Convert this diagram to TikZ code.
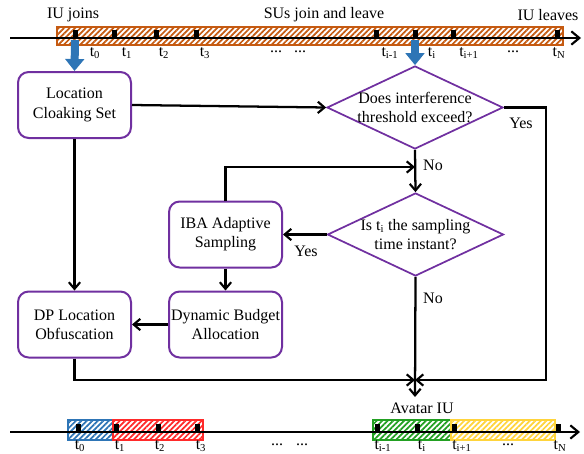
\documentclass[tikz,border=0pt]{standalone}
\usepackage{fontspec}
\setmainfont{Liberation Serif}
\usetikzlibrary{arrows.meta,shapes.geometric,patterns.meta}
\definecolor{purp}{HTML}{7030A0}
\definecolor{orng}{HTML}{C55A11}
\definecolor{blu}{HTML}{2E75B6}
\definecolor{rd}{HTML}{FF2A2A}
\definecolor{grn}{HTML}{22A022}
\definecolor{ylw}{HTML}{FFD43B}
\newcommand{\mydots}{\raisebox{2pt}{...}}
\begin{document}
\begin{tikzpicture}[x=0.75pt,y=-0.75pt,
  font=\fontsize{12}{14.5}\selectfont,
  box/.style={draw=purp, line width=1.5pt, rounded corners=8pt, minimum width=84.75pt,
    minimum height=49.5pt, align=center, fill=white, inner sep=1pt},
  dia/.style={diamond, draw=purp, line width=1.3pt, minimum width=132pt,
    minimum height=62.25pt, inner sep=0pt},
  conn/.style={line width=1.7pt, -{Straight Barb[length=5pt,width=8.5pt,line width=1.6pt]}},
  tline/.style={line width=1.7pt, -{Straight Barb[length=6pt,width=10pt,line width=1.6pt]}},
  hatch/.style={draw=#1, line width=0.9pt,
    pattern={Lines[angle=45,distance=2.9pt,line width=1.3pt]}, pattern color=#1},
  bigarrow/.style={blu, line width=6pt, -{Triangle[length=9pt,width=14pt]}},
  lbl/.style={inner sep=0pt},
]
\useasboundingbox (0,0) rectangle (584,453);

% ---------- top timeline ----------
\draw[hatch=orng] (57,27) rectangle (563,45);
\coordinate (ta) at (10,38);
\coordinate (tb) at (581,38);
\draw[tline] (ta) -- (tb);
\foreach \x in {75,114,156,196,376,415,453,557}
  \fill (\x-2.5,30) rectangle (\x+2.5,38);

\node[lbl] (iuj) at (73,15) {IU joins};
\node[lbl] (sus) at (324,15) {SUs join and leave};
\node[lbl] (iul) at (548,15) {IU leaves};

\node[lbl] (u0) at (95,53) {t\textsubscript{0}};
\node[lbl] (u1) at (127,53) {t\textsubscript{1}};
\node[lbl] (u2) at (164,53) {t\textsubscript{2}};
\node[lbl] (u3) at (205,53) {t\textsubscript{3}};
\node[lbl] (ud1) at (276,53) {\mydots};
\node[lbl] (ud2) at (300,53) {\mydots};
\node[lbl] (uim) at (390,53) {t\textsubscript{i-1}};
\node[lbl] (ui) at (432,53) {t\textsubscript{i}};
\node[lbl] (uip) at (469,53) {t\textsubscript{i+1}};
\node[lbl] (ud3) at (513,53) {\mydots};
\node[lbl] (uN) at (559,53) {t\textsubscript{N}};

% ---------- flowchart ----------
\node[box] (lcs) at (74.5,105) {Location\\Cloaking Set};
\node[dia] (d1) at (415,107.5) {};
\node[lbl, align=center] (d1t) at (d1) {Does interference\\threshold exceed?};
\node[dia] (d2) at (415.5,234.5) {};
\node[lbl, align=center] (d2t) at (d2) {Is t\textsubscript{i} the sampling\\time instant?};
\node[box] (iba) at (225.5,234.5) {IBA Adaptive\\Sampling};
\node[box] (dba) at (225.5,324.5) {Dynamic Budget\\Allocation};
\node[box] (dplo) at (74.5,324.5) {DP Location\\Obfuscation};
\node[lbl] (av) at (422,408) {Avatar IU};

\coordinate (s1) at (75,40);
\coordinate (s2) at (415,40);
\draw[bigarrow] (s1) -- (lcs.north);
\draw[bigarrow] (s2) -- (d1.north);

\coordinate (j1) at (415,167);
\coordinate (j2) at (415,380);
\coordinate (c3) at (546,380);
\coordinate (avin) at (415,397);

\draw[conn] (lcs.east) -- (d1.west);
\draw[conn] (d1.south) -- (d2.north);
\draw[conn] (iba.north) |- (j1);
\draw[conn] (d2.west) -- (iba.east);
\draw[conn] (iba.south) -- (dba.north);
\draw[conn] (dba.west) -- (dplo.east);
\draw[conn] (lcs.south) -- (dplo.north);
\draw[conn] (dplo.south) |- (j2);
\draw[conn] (d1.east) -| (c3) -- (j2);
\draw[conn] (d2.south) -- (avin);

\node[lbl] (yes1) at (521,123) {Yes};
\node[lbl] (no1) at (433,165) {No};
\node[lbl] (yes2) at (306,251) {Yes};
\node[lbl] (no2) at (433,298) {No};

% ---------- bottom timeline ----------
\draw[hatch=blu] (68,420) rectangle (113,440);
\draw[hatch=rd] (113,420) rectangle (203,440);
\draw[hatch=grn] (373,420) rectangle (451,440);
\draw[hatch=ylw] (451,420) rectangle (555,440);
\coordinate (ba) at (10,432);
\coordinate (bb) at (580,432);
\draw[tline] (ba) -- (bb);
\foreach \x in {78,116,158,197,377,417,454,558}
  \fill (\x-2.5,424) rectangle (\x+2.5,432);

\node[lbl] (b0) at (80,446) {t\textsubscript{0}};
\node[lbl] (b1) at (120,446) {t\textsubscript{1}};
\node[lbl] (b2) at (160,446) {t\textsubscript{2}};
\node[lbl] (b3) at (201,446) {t\textsubscript{3}};
\node[lbl] (bd1) at (277,446) {\mydots};
\node[lbl] (bd2) at (302,446) {\mydots};
\node[lbl] (bim) at (383,446) {t\textsubscript{i-1}};
\node[lbl] (bi) at (422,446) {t\textsubscript{i}};
\node[lbl] (bip) at (462,446) {t\textsubscript{i+1}};
\node[lbl] (bd3) at (508,446) {\mydots};
\node[lbl] (bN) at (560,446) {t\textsubscript{N}};
\end{tikzpicture}
\end{document}
